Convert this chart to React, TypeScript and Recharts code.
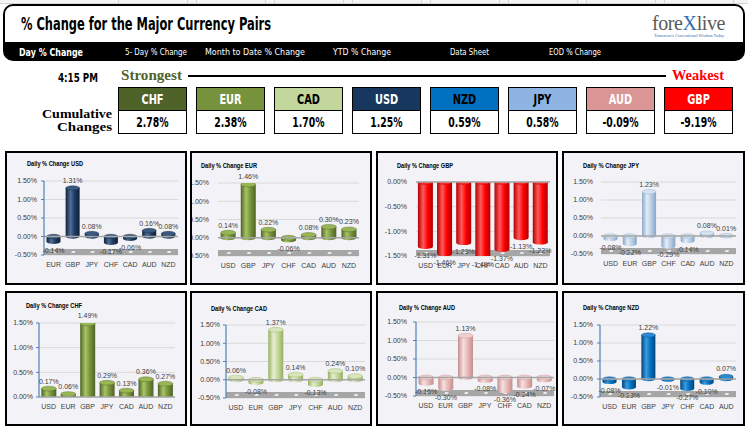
import React from "react";
import {
  BarChart,
  Bar,
  XAxis,
  YAxis,
  CartesianGrid,
  ReferenceLine,
  ReferenceArea,
  LabelList,
} from "recharts";

// ---------------- DATA ----------------
const pageTitle = "% Change for the Major Currency Pairs";
const navTabs = ["Day % Change", "5- Day % Change", "Month to Date % Change", "YTD % Change", "Data Sheet", "EOD % Change"];
const timeLabel = "4:15 PM";
const strengthCurrencies = ["CHF", "EUR", "CAD", "USD", "NZD", "JPY", "AUD", "GBP"];
const cumulativeChanges = [2.78, 2.38, 1.7, 1.25, 0.59, 0.58, -0.09, -9.19];

const usdCategories = ["EUR", "GBP", "JPY", "CHF", "CAD", "AUD", "NZD"];
const usdValues = [-0.14, 1.31, 0.08, -0.17, -0.06, 0.16, 0.08];
const eurCategories = ["USD", "GBP", "JPY", "CHF", "CAD", "AUD", "NZD"];
const eurValues = [0.14, 1.46, 0.22, -0.06, 0.08, 0.3, 0.23];
const gbpCategories = ["USD", "EUR", "JPY", "CHF", "CAD", "AUD", "NZD"];
const gbpValues = [-1.31, -1.46, -1.23, -1.49, -1.37, -1.13, -1.22];
const jpyCategories = ["USD", "EUR", "GBP", "CHF", "CAD", "AUD", "NZD"];
const jpyValues = [-0.08, -0.22, 1.23, -0.29, -0.14, 0.08, 0.01];
const chfCategories = ["USD", "EUR", "GBP", "JPY", "CAD", "AUD", "NZD"];
const chfValues = [0.17, 0.06, 1.49, 0.29, 0.13, 0.36, 0.27];
const cadCategories = ["USD", "EUR", "GBP", "JPY", "CHF", "AUD", "NZD"];
const cadValues = [0.06, -0.08, 1.37, 0.14, -0.13, 0.24, 0.1];
const audCategories = ["USD", "EUR", "GBP", "JPY", "CHF", "CAD", "NZD"];
const audValues = [-0.16, -0.3, 1.13, -0.08, -0.36, -0.24, -0.07];
const nzdCategories = ["USD", "EUR", "GBP", "JPY", "CHF", "CAD", "AUD"];
const nzdValues = [-0.08, -0.23, 1.22, -0.01, -0.27, -0.1, 0.07];

const ticksStandard = [-0.5, 0, 0.5, 1, 1.5];
const ticksNegative = [-1.5, -1, -0.5, 0];
const ticksPositive = [0, 0.5, 1, 1.5];

// ---------------- STYLES ----------------
const CHART_FONT = '"Liberation Sans", Arial, sans-serif';
const COND = '"DejaVu Sans Condensed", "Liberation Sans", sans-serif';
const SERIF = '"Liberation Serif", "DejaVu Serif", serif';

const boxColors = ["#4F6228", "#76923C", "#C3D69B", "#17375E", "#0070C0", "#8DB4E2", "#DA9694", "#FF0000"];
const boxTextColors = ["#FFFFFF", "#FFFFFF", "#000000", "#FFFFFF", "#000000", "#000000", "#FFFFFF", "#FFFFFF"];
const tabPos = [
  { x: 19, w: 64 },
  { x: 125, w: 62 },
  { x: 205, w: 100 },
  { x: 333, w: 58 },
  { x: 450, w: 39 },
  { x: 549, w: 52 },
];
const topStripLines = [118, 187, 196, 265, 274, 343, 352, 421, 430, 499, 508, 577, 586, 655, 664, 733];

type Layout = {
  left: number; top: number; width: number; height: number;
  plotLeft: number; plotRight: number; plotTop: number; plotBottom: number;
  titleX: number; titleY: number; gap: number; blueAxis: boolean; catGap: string;
};
type Palette = { base: string; light: string; dark: string; cap: string };

const layoutUSD: Layout = { left: 5, top: 151, width: 182, height: 134, plotLeft: 44, plotRight: 178, plotTop: 181, plotBottom: 255, titleX: 27, titleY: 163, gap: 7, blueAxis: true, catGap: "13%" };
const layoutEUR: Layout = { left: 190, top: 151, width: 182, height: 134, plotLeft: 218, plotRight: 359, plotTop: 183, plotBottom: 256, titleX: 201, titleY: 165, gap: 9, blueAxis: false, catGap: "13%" };
const layoutGBP: Layout = { left: 376, top: 151, width: 182, height: 134, plotLeft: 416, plotRight: 550, plotTop: 182, plotBottom: 256, titleX: 397, titleY: 165, gap: 9, blueAxis: false, catGap: "10%" };
const layoutJPY: Layout = { left: 562, top: 151, width: 183, height: 134, plotLeft: 601, plotRight: 736, plotTop: 182, plotBottom: 254, titleX: 583, titleY: 165, gap: 8, blueAxis: false, catGap: "13%" };
const layoutCHF: Layout = { left: 5, top: 291, width: 182, height: 135, plotLeft: 39, plotRight: 175, plotTop: 323, plotBottom: 397, titleX: 26, titleY: 305, gap: 6, blueAxis: true, catGap: "12%" };
const layoutCAD: Layout = { left: 190, top: 291, width: 182, height: 135, plotLeft: 226, plotRight: 365, plotTop: 325, plotBottom: 398, titleX: 211, titleY: 308, gap: 6, blueAxis: true, catGap: "13%" };
const layoutAUD: Layout = { left: 376, top: 291, width: 182, height: 135, plotLeft: 416, plotRight: 554, plotTop: 322, plotBottom: 396, titleX: 399, titleY: 307, gap: 9, blueAxis: true, catGap: "13%" };
const layoutNZD: Layout = { left: 562, top: 291, width: 183, height: 135, plotLeft: 600, plotRight: 736, plotTop: 325, plotBottom: 397, titleX: 583, titleY: 307, gap: 7, blueAxis: true, catGap: "13%" };

const palUSD: Palette = { base: "#1F3A60", light: "#4E6E96", dark: "#0E2038", cap: "#3A5A82" };
const palEUR: Palette = { base: "#77933C", light: "#A8C464", dark: "#4F6228", cap: "#98B654" };
const palGBP: Palette = { base: "#FF0000", light: "#FF5A5A", dark: "#B00000", cap: "#FF3030" };
const palJPY: Palette = { base: "#B9CDE5", light: "#E4EDF7", dark: "#8AA6C8", cap: "#D5E2F0" };
const palCHF: Palette = { base: "#77933C", light: "#A8C464", dark: "#4F6228", cap: "#98B654" };
const palCAD: Palette = { base: "#C3D69B", light: "#E6EFD2", dark: "#97B05E", cap: "#D7E4BC" };
const palAUD: Palette = { base: "#E6B9B8", light: "#F6E0DF", dark: "#C48E8C", cap: "#F0D0CF" };
const palNZD: Palette = { base: "#0070C0", light: "#3C9CE2", dark: "#00457A", cap: "#2B8AD0" };

const panels = [
  { id: "usd", title: "Daily % Change USD", cats: usdCategories, vals: usdValues, ticks: ticksStandard, layout: layoutUSD, pal: palUSD },
  { id: "eur", title: "Daily % Change EUR", cats: eurCategories, vals: eurValues, ticks: ticksStandard, layout: layoutEUR, pal: palEUR },
  { id: "gbp", title: "Daily % Change GBP", cats: gbpCategories, vals: gbpValues, ticks: ticksNegative, layout: layoutGBP, pal: palGBP },
  { id: "jpy", title: "Daily % Change JPY", cats: jpyCategories, vals: jpyValues, ticks: ticksStandard, layout: layoutJPY, pal: palJPY },
  { id: "chf", title: "Daily % Change CHF", cats: chfCategories, vals: chfValues, ticks: ticksPositive, layout: layoutCHF, pal: palCHF },
  { id: "cad", title: "Daily % Change CAD", cats: cadCategories, vals: cadValues, ticks: ticksStandard, layout: layoutCAD, pal: palCAD },
  { id: "aud", title: "Daily % Change AUD", cats: audCategories, vals: audValues, ticks: ticksStandard, layout: layoutAUD, pal: palAUD },
  { id: "nzd", title: "Daily % Change NZD", cats: nzdCategories, vals: nzdValues, ticks: ticksStandard, layout: layoutNZD, pal: palNZD },
];

const Y_AXIS_W = 26;
const X_AXIS_H = 20;
const FS = 7;
const FLOOR_PX = 6;
const fmtPct = (v: number) => `${Number(v).toFixed(2)}%`;

function makeCylinder(gradId: string, pal: Palette, hasFloor: boolean) {
  return (props: any) => {
    const { x, y, width, height, background } = props;
    if (x == null || y == null || isNaN(x) || isNaN(y)) return <g />;
    const top = Math.min(y, y + (height || 0));
    const bot = Math.max(y, y + (height || 0));
    const rx = width / 2;
    const ry = Math.max(1.5, width * 0.16);
    const cx = x + rx;
    const floorBottom =
      background && background.y != null && background.height != null ? background.y + background.height : null;
    return (
      <g>
        {hasFloor && floorBottom != null && (
          <polygon
            points={`${cx - 1.5},${floorBottom - FLOOR_PX / 2 + 0.7} ${cx + 2},${floorBottom - FLOOR_PX / 2 + 0.7} ${cx + 3},${floorBottom - FLOOR_PX / 2 - 0.7} ${cx - 0.5},${floorBottom - FLOOR_PX / 2 - 0.7}`}
            fill="#FFFFFF"
          />
        )}
        <path
          d={`M${x},${top} L${x},${bot} A${rx},${ry} 0 0 0 ${x + width},${bot} L${x + width},${top} Z`}
          fill={`url(#${gradId})`}
        />
        <ellipse cx={cx} cy={top} rx={rx} ry={ry} fill={pal.cap} stroke={pal.dark} strokeWidth={0.4} />
      </g>
    );
  };
}

const renderLabel = (props: any) => {
  const vb = props.viewBox && props.viewBox.width != null ? props.viewBox : props;
  const { x, y, width, height } = vb;
  const value = Number(props.value);
  if (x == null || isNaN(x) || isNaN(value)) return null;
  const top = Math.min(y, y + (height || 0));
  const bot = Math.max(y, y + (height || 0));
  const cx = x + width / 2;
  const ty = value >= 0 ? top - 5 : bot + 11;
  return (
    <text x={cx} y={ty} textAnchor="middle" fontSize={FS} fill="#404040" fontFamily={CHART_FONT}>
      {fmtPct(value)}
    </text>
  );
};

function Panel({ cfg }: { cfg: (typeof panels)[number] }) {
  const L = cfg.layout;
  const data = cfg.cats.map((c, i) => ({ cat: c, v: cfg.vals[i] }));
  const min = Math.min(...cfg.ticks);
  const max = Math.max(...cfg.ticks);
  const margin = {
    top: L.plotTop - L.top,
    bottom: L.top + L.height - L.plotBottom - X_AXIS_H,
    left: L.plotLeft - L.left - Y_AXIS_W,
    right: L.left + L.width - L.plotRight,
  };
  const floorH = (FLOOR_PX / (L.plotBottom - L.plotTop)) * (max - min);
  const gradId = `grad-${cfg.id}`;
  const axisColor = "#4F81BD";
  return (
    <div
      style={{
        position: "absolute",
        left: L.left,
        top: L.top,
        width: L.width,
        height: L.height,
        border: "2px solid #000",
        boxSizing: "border-box",
        background: "#F3F2F6",
        overflow: "hidden",
      }}
    >
      <div style={{ position: "absolute", left: -2, top: -2 }}>
        <BarChart width={L.width} height={L.height} data={data} margin={margin} barCategoryGap={L.catGap}>
          <defs>
            <linearGradient id={gradId} x1="0" y1="0" x2="1" y2="0">
              <stop offset="0%" stopColor={cfg.pal.dark} />
              <stop offset="35%" stopColor={cfg.pal.light} />
              <stop offset="65%" stopColor={cfg.pal.base} />
              <stop offset="100%" stopColor={cfg.pal.dark} />
            </linearGradient>
          </defs>
          <CartesianGrid vertical={false} stroke="#D9D9D9" />
          {min < 0 && (
            <ReferenceArea y1={min} y2={min + floorH} fill="#A6A6A6" fillOpacity={1} stroke="none" />
          )}
          <ReferenceLine y={0} stroke="#A6A6A6" strokeWidth={1.5} />
          <XAxis
            dataKey="cat"
            type="category"
            axisLine={false}
            tickLine={false}
            interval={0}
            height={X_AXIS_H}
            tickSize={5}
            tickMargin={2}
            tick={{ fontSize: FS, fill: "#404040", fontFamily: CHART_FONT }}
          />
          <YAxis
            type="number"
            domain={[min, max]}
            ticks={cfg.ticks}
            interval={0}
            width={Y_AXIS_W}
            allowDataOverflow
            axisLine={L.blueAxis ? { stroke: axisColor, strokeWidth: 1.2 } : false}
            tickLine={L.blueAxis ? { stroke: axisColor } : false}
            tickSize={3}
            tickMargin={L.gap - 3}
            tickFormatter={fmtPct}
            tick={{ fontSize: FS, fill: "#404040", fontFamily: CHART_FONT }}
          />
          <Bar dataKey="v" isAnimationActive={false} shape={makeCylinder(gradId, cfg.pal, min < 0)}>
            <LabelList dataKey="v" content={renderLabel} />
          </Bar>
        </BarChart>
      </div>
    </div>
  );
}

function Overlay() {
  return (
    <svg
      width={748}
      height={432}
      style={{ position: "absolute", left: 0, top: 0, pointerEvents: "none" }}
    >
      <defs>
        <clipPath id="hdrclip">
          <rect x={4} y={5} width={740} height={55} rx={9} ry={9} />
        </clipPath>
      </defs>
      {/* spreadsheet strip */}
      <rect x={0} y={0} width={748} height={3} fill="#F4F4F4" />
      <line x1={0} y1={3.5} x2={748} y2={3.5} stroke="#D4D4D4" />
      {topStripLines.map((lx) => (
        <line key={lx} x1={lx + 0.5} y1={0} x2={lx + 0.5} y2={4} stroke="#D4D4D4" />
      ))}

      {/* header */}
      <rect x={4} y={5} width={740} height={55} rx={9} ry={9} fill="#FFFFFF" />
      <rect x={4} y={42} width={740} height={18} fill="#000" clipPath="url(#hdrclip)" />
      <rect x={4} y={5} width={740} height={55} rx={9} ry={9} fill="none" stroke="#000" strokeWidth={2} />
      <text x={21} y={30} fontFamily={COND} fontWeight={700} fontSize={18} textLength={250} lengthAdjust="spacingAndGlyphs" fill="#000">
        {pageTitle}
      </text>
      <text x={652} y={30} fontFamily={SERIF} fontSize={20} fill="#5A5A5A" letterSpacing={-0.4}>
        fore<tspan fill="#2E6DB4">X</tspan>live
      </text>
      <text x={654} y={37} fontFamily={SERIF} fontSize={3.5} textLength={70} lengthAdjust="spacingAndGlyphs" fill="#2E6DB4">
        Tomorrow's Conventional Wisdom Today
      </text>
      {navTabs.map((t, i) => (
        <text
          key={t}
          x={tabPos[i].x}
          y={i === 0 ? 55.5 : 54.5}
          fontFamily={COND}
          fontWeight={i === 0 ? 700 : 400}
          fontSize={i === 0 ? 11 : 9}
          textLength={tabPos[i].w}
          lengthAdjust="spacingAndGlyphs"
          fill="#FFF"
        >
          {t}
        </text>
      ))}

      {/* time & strength line */}
      <text x={58} y={82} fontFamily={COND} fontWeight={700} fontSize={13} textLength={40} lengthAdjust="spacingAndGlyphs" fill="#000">
        {timeLabel}
      </text>
      <text x={121} y={80} fontFamily={SERIF} fontWeight={700} fontSize={14} textLength={61} lengthAdjust="spacingAndGlyphs" fill="#4F6228">
        Strongest
      </text>
      <line x1={188} y1={76} x2={666} y2={76} stroke="#000" strokeWidth={2} />
      <text x={672} y={80} fontFamily={SERIF} fontWeight={700} fontSize={14} textLength={52} lengthAdjust="spacingAndGlyphs" fill="#FF0000">
        Weakest
      </text>
      <text x={112} y={118} textAnchor="end" fontFamily={SERIF} fontWeight={700} fontSize={13.5} textLength={70} lengthAdjust="spacingAndGlyphs" fill="#000">
        Cumulative
      </text>
      <text x={112} y={131} textAnchor="end" fontFamily={SERIF} fontWeight={700} fontSize={13.5} textLength={55} lengthAdjust="spacingAndGlyphs" fill="#000">
        Changes
      </text>

      {strengthCurrencies.map((c, i) => {
        const bx = 118 + i * 78;
        const cx = bx + 34.5;
        return (
          <g key={c}>
            <rect x={bx + 0.5} y={87.5} width={68} height={23} fill={boxColors[i]} stroke="#000" />
            <rect x={bx + 0.5} y={110.5} width={68} height={23} fill="#FFF" stroke="#000" />
            <text
              transform={`translate(${cx},104) scale(0.78,1)`}
              textAnchor="middle"
              fontFamily={COND}
              fontWeight={700}
              fontSize={14}
              fill={boxTextColors[i]}
            >
              {c}
            </text>
            <text
              transform={`translate(${cx},127) scale(0.74,1)`}
              textAnchor="middle"
              fontFamily={COND}
              fontWeight={700}
              fontSize={14}
              fill="#000"
            >
              {fmtPct(cumulativeChanges[i])}
            </text>
          </g>
        );
      })}

      {/* panel titles */}
      {panels.map((p) => (
        <text
          key={p.id}
          x={p.layout.titleX}
          y={p.layout.titleY + 2.5}
          fontFamily={CHART_FONT}
          fontWeight={700}
          fontSize={7}
          textLength={56}
          lengthAdjust="spacingAndGlyphs"
          fill="#000"
        >
          {p.title}
        </text>
      ))}
    </svg>
  );
}

export default function App() {
  return (
    <div
      style={{
        position: "absolute",
        left: 0,
        top: 0,
        width: 748,
        height: 432,
        background: "#FFFFFF",
        overflow: "hidden",
        fontFamily: CHART_FONT,
      }}
    >
      {panels.map((p) => (
        <Panel key={p.id} cfg={p} />
      ))}
      <Overlay />
    </div>
  );
}
